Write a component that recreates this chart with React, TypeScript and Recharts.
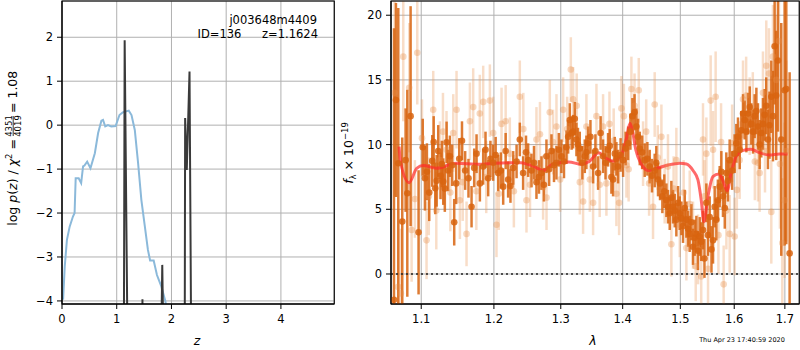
import React from "react";
import {
  ComposedChart,
  Line,
  Scatter,
  ErrorBar,
  XAxis,
  YAxis,
  CartesianGrid,
  ReferenceLine,
} from "recharts";

const FONT = "DejaVu Sans, Verdana, sans-serif";

// left panel: log p(z) curve (blue) and chi2-based spikes (black)
const pzZ = [0.02, 0.05, 0.09, 0.14, 0.2, 0.23, 0.25, 0.305, 0.35, 0.385, 0.41, 0.46, 0.52, 0.6, 0.66, 0.72, 0.75, 0.79, 0.84, 0.9, 0.98, 1.05, 1.11, 1.22, 1.27, 1.33, 1.39, 1.45, 1.51, 1.57, 1.61, 1.675, 1.735, 1.815, 1.89, 1.95];
const pzLog = [-3.97, -3.22, -2.61, -2.31, -2.08, -2.0, -1.21, -1.21, -1.32, -0.94, -0.92, -0.83, -0.98, -0.64, -0.18, 0.1, 0.12, -0.03, 0.0, -0.03, -0.02, 0.23, 0.29, 0.33, 0.23, -0.11, -0.86, -1.7, -2.27, -2.84, -3.08, -3.08, -3.41, -3.67, -4.01, -4.5];

const chiZ = [0, 1.12, 1.145, 1.235, 1.46, 1.47, 1.48, 1.76, 1.832, 1.91, 2.235, 2.25, 2.28, 2.33, 2.385, 4.97];
const chiLog = [-10, -10, 1.93, -10, -10, -3.96, -10, -10, -3.18, -10, -10, 0.16, -1.02, 1.22, -10, -10];

const zTicks = [0, 1, 2, 3, 4];
const logTicks = [-4, -3, -2, -1, 0, 1, 2];

// right panel: spectrum, strong points
const lamDark = [1.0647, 1.0672, 1.0702, 1.0753, 1.0796, 1.0818, 1.0861, 1.0965, 1.102, 1.1049, 1.1075, 1.1106, 1.1146, 1.1165, 1.1186, 1.1205, 1.1226, 1.1258, 1.1275, 1.1294, 1.1315, 1.1339, 1.136, 1.1384, 1.1415, 1.1443, 1.147, 1.1512, 1.155, 1.1594, 1.164, 1.1683, 1.172, 1.1753, 1.18, 1.1847, 1.188, 1.1918, 1.195, 1.1989, 1.2025, 1.2061, 1.21, 1.2134, 1.217, 1.2206, 1.224, 1.228, 1.233, 1.2378, 1.2427, 1.247, 1.2502, 1.2552, 1.259, 1.2627, 1.2665, 1.2703, 1.274, 1.2779, 1.282, 1.2856, 1.2895, 1.2933, 1.297, 1.301, 1.305, 1.3089, 1.3115, 1.3141, 1.317, 1.3193, 1.322, 1.3246, 1.327, 1.3299, 1.334, 1.3379, 1.3405, 1.3432, 1.347, 1.3513, 1.355, 1.3594, 1.3635, 1.3675, 1.3715, 1.3757, 1.3785, 1.3812, 1.384, 1.3868, 1.3895, 1.3923, 1.3965, 1.4007, 1.405, 1.4091, 1.413, 1.4164, 1.42, 1.4232, 1.426, 1.4289, 1.433, 1.4374, 1.442, 1.446, 1.45, 1.4547, 1.4575, 1.4605, 1.464, 1.4681, 1.4715, 1.4752, 1.478, 1.4811, 1.484, 1.487, 1.49, 1.4929, 1.496, 1.4989, 1.502, 1.5049, 1.508, 1.5109, 1.514, 1.5169, 1.52, 1.523, 1.526, 1.5291, 1.532, 1.5352, 1.538, 1.5413, 1.544, 1.5475, 1.5505, 1.5537, 1.557, 1.5599, 1.563, 1.5661, 1.569, 1.5724, 1.5755, 1.5786, 1.582, 1.5849, 1.588, 1.5913, 1.596, 1.6008, 1.604, 1.6072, 1.6105, 1.6136, 1.617, 1.6201, 1.6235, 1.6266, 1.63, 1.6331, 1.6365, 1.6396, 1.643, 1.6461, 1.6495, 1.6527, 1.656, 1.6593, 1.6625, 1.6659, 1.669, 1.6726, 1.676, 1.6793, 1.6825, 1.686, 1.6927, 1.6995, 1.7029, 1.7097];
const fluxDark = [-2.0, 13.45, 8.56, 4.05, 8.8, 6.24, 12.2, 3.22, 9.8, 7.4, 7.9, 6.29, 8.74, 10.2, 6.62, 7.2, 9.51, 7.58, 8.5, 7.14, 6.6, 10.18, 8.0, 9.1, 8.4, 4.0, 7.0, 8.9, 10.3, 8.0, 7.4, 5.2, 8.2, 9.3, 7.0, 8.3, 9.6, 7.4, 8.9, 8.6, 9.2, 7.8, 8.0, 6.75, 9.5, 7.3, 6.8, 8.2, 8.7, 10.4, 7.8, 9.4, 8.8, 8.0, 8.6, 7.1, 7.5, 7.8, 6.9, 9.1, 8.1, 9.5, 8.4, 8.6, 9.6, 9.1, 8.7, 9.8, 10.6, 11.9, 10.9, 11.0, 12.0, 10.4, 10.0, 9.7, 8.6, 9.1, 9.4, 10.1, 10.6, 8.3, 9.5, 7.8, 10.9, 9.1, 8.6, 9.6, 9.9, 7.5, 7.3, 9.3, 8.9, 8.3, 9.2, 8.8, 9.7, 10.1, 11.0, 12.2, 12.5, 11.4, 10.6, 9.7, 9.4, 8.8, 8.9, 8.3, 7.6, 8.0, 8.6, 7.3, 7.0, 6.0, 6.4, 5.7, 5.2, 4.7, 5.9, 5.2, 4.9, 4.2, 5.5, 4.7, 4.3, 3.7, 5.1, 4.2, 3.5, 3.1, 4.0, 2.1, 2.8, 3.1, 1.8, 2.9, 2.5, 3.4, 1.2, 5.5, 3.0, 4.4, 1.9, 2.6, 5.2, 4.2, 5.7, 6.75, 7.9, 6.0, 5.1, 7.8, 7.2, 8.8, 8.0, 9.3, 10.1, 10.6, 9.6, 11.1, 12.4, 11.9, 11.0, 12.4, 12.9, 11.6, 11.0, 12.2, 12.6, 11.4, 10.0, 10.9, 11.6, 12.3, 13.0, 10.4, 11.5, 13.7, 12.2, 17.6, 13.8, 16.5, 10.4, 14.2, 14.3, 1.6];
const errDark = [21, 7.5, 12, 6.5, 4, 8, 8.5, 4.8, 2.2, 2.5, 2.2, 2.2, 2.0, 2.0, 2.0, 2.0, 2.0, 1.8, 1.8, 1.8, 1.8, 1.6, 1.6, 1.6, 1.6, 1.8, 1.6, 1.6, 1.5, 1.5, 1.5, 1.6, 1.5, 1.5, 1.4, 1.4, 1.4, 1.4, 1.4, 1.4, 1.4, 1.4, 1.4, 1.4, 1.4, 1.4, 1.3, 1.3, 1.3, 1.3, 1.3, 1.3, 1.3, 1.3, 1.3, 1.3, 1.3, 1.3, 1.3, 1.3, 1.3, 1.3, 1.3, 1.3, 1.3, 1.3, 1.3, 1.3, 1.3, 1.3, 1.3, 1.3, 1.3, 1.3, 1.3, 1.3, 1.3, 1.3, 1.3, 1.3, 1.3, 1.3, 1.3, 1.3, 1.3, 1.3, 1.3, 1.3, 1.3, 1.3, 1.3, 1.3, 1.3, 1.3, 1.3, 1.3, 1.3, 1.3, 1.4, 1.4, 1.4, 1.4, 1.4, 1.3, 1.3, 1.3, 1.3, 1.3, 1.3, 1.3, 1.3, 1.3, 1.3, 1.3, 1.3, 1.3, 1.3, 1.3, 1.3, 1.3, 1.3, 1.3, 1.3, 1.3, 1.3, 1.3, 1.4, 1.4, 1.4, 1.4, 1.4, 1.4, 1.4, 1.4, 1.5, 1.5, 1.5, 1.5, 1.5, 1.5, 1.6, 1.6, 1.8, 1.8, 1.6, 1.6, 1.6, 1.6, 1.6, 1.6, 1.6, 1.6, 1.6, 1.6, 1.5, 1.5, 1.5, 1.5, 1.5, 1.5, 1.5, 1.5, 1.6, 1.6, 1.6, 1.6, 1.7, 1.7, 1.8, 1.8, 1.9, 1.9, 2.0, 2.0, 2.2, 2.3, 2.6, 2.8, 3.5, 4.5, 5, 5.5, 9, 12, 12, 14];

// faint points
const lamLight = [1.0655, 1.07, 1.0735, 1.0766, 1.0843, 1.0874, 1.0917, 1.0948, 1.101, 1.107, 1.11, 1.1159, 1.12, 1.1248, 1.129, 1.1338, 1.139, 1.143, 1.1475, 1.1521, 1.156, 1.1613, 1.166, 1.1706, 1.175, 1.1799, 1.1847, 1.189, 1.1942, 1.199, 1.2037, 1.207, 1.211, 1.217, 1.2231, 1.229, 1.2378, 1.243, 1.2477, 1.253, 1.2627, 1.268, 1.2728, 1.278, 1.283, 1.288, 1.2933, 1.299, 1.3037, 1.31, 1.3157, 1.3193, 1.325, 1.33, 1.3352, 1.3405, 1.346, 1.3513, 1.3567, 1.362, 1.3675, 1.373, 1.378, 1.385, 1.3895, 1.394, 1.3979, 1.402, 1.4063, 1.41, 1.4147, 1.42, 1.4272, 1.4346, 1.44, 1.445, 1.4518, 1.4547, 1.46, 1.4664, 1.4722, 1.478, 1.484, 1.488, 1.4929, 1.499, 1.506, 1.5109, 1.517, 1.523, 1.5279, 1.5322, 1.538, 1.5413, 1.544, 1.5475, 1.5506, 1.5555, 1.56, 1.5648, 1.57, 1.575, 1.5799, 1.585, 1.5913, 1.596, 1.6008, 1.605, 1.6104, 1.6169, 1.623, 1.6298, 1.636, 1.64, 1.6461, 1.6494, 1.656, 1.66, 1.6626, 1.668, 1.6726, 1.6759, 1.6826, 1.688, 1.69, 1.6948, 1.6995, 1.7029];
const fluxLight = [14.0, -1.0, -1.5, 16.8, 14.4, 3.4, 5.8, 17.1, 10.5, 2.6, 6.0, 12.7, 4.9, 8.8, 11.0, 9.6, 6.3, 10.9, 12.7, 5.7, 7.1, 3.1, 11.8, 12.9, 6.4, 12.4, 13.3, 7.5, 13.4, 10.9, 3.8, 6.2, 11.6, 11.8, 9.3, 6.4, 13.7, 11.2, 5.7, 6.9, 10.4, 10.8, 6.7, 5.9, 12.5, 10.2, 11.4, 7.3, 12.7, 11.2, 15.8, 13.5, 13.0, 7.1, 5.6, 11.4, 7.3, 5.5, 12.2, 6.9, 11.4, 7.0, 11.6, 10.3, 6.2, 5.5, 12.8, 12.2, 8.4, 8.1, 14.3, 13.0, 14.2, 9.3, 11.0, 7.0, 5.2, 13.1, 9.0, 10.6, 6.4, 8.3, 2.3, 6.6, 8.8, 3.8, 6.3, 2.0, 5.4, 3.0, 0.6, 1.9, -0.2, 10.4, 6.0, 9.3, 0.4, 13.4, 9.6, 13.7, 3.0, 10.2, -0.8, 4.9, 3.1, 10.1, 2.9, 6.5, 8.8, 13.5, 13.8, 12.2, 12.6, 8.7, 8.6, 7.8, 14.0, 9.5, 16.1, 15.5, 4.8, 16.8, 15.0, 18.0, 8.5, 2.4, 5.7, 9.5];
const errLight = [8, 6, 5, 5, 5, 4, 3, 4, 3, 3, 3, 3, 3, 3, 3, 3, 3, 3, 3, 3, 3, 2.5, 3, 3, 3, 3, 2.8, 2.8, 2.8, 2.8, 2.5, 2.8, 2.8, 2.8, 2.8, 2.8, 2.8, 2.8, 2.5, 2.5, 2.5, 2.5, 2.5, 2.5, 2.5, 2.5, 2.5, 2.5, 2.5, 2.5, 2.5, 2.5, 2.5, 2.5, 2.5, 2.5, 2.5, 2.5, 2.5, 2.5, 2.5, 2.5, 2.5, 2.5, 2.5, 2.5, 2.5, 2.5, 2.5, 2.5, 2.5, 2.5, 2.5, 2.5, 2.5, 2.5, 2.5, 2.5, 2.5, 2.5, 2.5, 2.5, 2.5, 2.5, 2.5, 2.5, 2.5, 2.5, 2.6, 2.6, 2.7, 2.7, 2.8, 2.8, 2.8, 2.8, 3, 3.5, 3, 3.5, 3, 3, 3, 3, 3, 3, 3, 3, 3, 3, 3, 3, 3, 3, 3, 3, 3.2, 3.2, 3.5, 3.5, 4, 4, 5, 4.5, 5, 5, 6, 7];

// best-fit template (red)
const lamModel = [1.0712, 1.0732, 1.0843, 1.094, 1.1026, 1.12, 1.147, 1.18, 1.2, 1.2397, 1.259, 1.2732, 1.2877, 1.3126, 1.3322, 1.345, 1.3604, 1.3707, 1.384, 1.3977, 1.4057, 1.4123, 1.4167, 1.4222, 1.4306, 1.4445, 1.4587, 1.4787, 1.4988, 1.511, 1.523, 1.532, 1.538, 1.543, 1.5504, 1.5596, 1.5707, 1.578, 1.5865, 1.594, 1.6036, 1.616, 1.632, 1.649, 1.6686, 1.6887, 1.7055];
const fluxModel = [9.85, 8.6, 7.06, 8.17, 8.38, 8.17, 8.56, 8.48, 8.56, 8.6, 8.3, 7.99, 8.48, 8.66, 8.48, 8.69, 9.38, 8.99, 8.74, 9.2, 10.36, 11.65, 11.0, 9.59, 8.56, 7.99, 8.17, 8.43, 8.56, 8.5, 8.0, 7.27, 5.72, 4.04, 5.98, 7.52, 7.73, 7.27, 6.44, 7.79, 9.07, 9.54, 9.64, 9.38, 9.2, 9.28, 9.28];

const lamTicks = [1.1, 1.2, 1.3, 1.4, 1.5, 1.6, 1.7];
const fluxTicks = [0, 5, 10, 15, 20];

const pzData = pzZ.map((z, i) => ({ z, v: pzLog[i] }));
const chiData = chiZ.map((z, i) => ({ z, v: chiLog[i] }));
const darkData = lamDark.map((lam, i) => ({ lam, f: fluxDark[i], err: errDark[i] }));
const lightData = lamLight.map((lam, i) => ({ lam, f: fluxLight[i], err: errLight[i] }));
const modelData = lamModel.map((lam, i) => ({ lam, f: fluxModel[i] }));

const tickStyle = { fontSize: 11.5, fill: "#000", fontFamily: FONT };
const minus = (v: number) => (v < 0 ? "\u2212" + Math.abs(v) : String(v));

const dot = (color: string, opacity: number) => (p: any) =>
  p.cx == null ? <g /> : <circle cx={p.cx} cy={p.cy} r={3.3} fill={color} fillOpacity={opacity} />;

const LAM_DOMAIN: [number, number] = [1.0609, 1.729];
const FLUX_DOMAIN: [number, number] = [-2.32, 21.1];

// same axes twice: visible under the data, invisible in the clipped data layer
const specX = (visible: boolean) => (
  <XAxis
    dataKey="lam"
    type="number"
    scale="log"
    domain={LAM_DOMAIN}
    ticks={lamTicks}
    allowDataOverflow
    height={46}
    tick={visible ? tickStyle : false}
    tickLine={visible}
    axisLine={visible}
    tickSize={5}
    tickMargin={6}
    tickFormatter={(v: number) => v.toFixed(1)}
    stroke="#000"
  />
);
const specY = (visible: boolean) => (
  <YAxis
    dataKey="f"
    type="number"
    domain={FLUX_DOMAIN}
    ticks={fluxTicks}
    allowDataOverflow
    width={51}
    tick={visible ? tickStyle : false}
    tickLine={visible}
    axisLine={visible}
    tickSize={5}
    tickMargin={4}
    stroke="#000"
  />
);

export default function App() {
  return (
    <div style={{ position: "absolute", left: 0, top: 0, width: 800, height: 350, background: "#fff" }}>
      <div style={{ position: "absolute", left: 0, top: 0 }}>
        <ComposedChart width={340} height={350} margin={{ top: 1, right: 6, left: 0, bottom: 0 }}>
          <CartesianGrid stroke="#b0b0b0" strokeWidth={1} />
          <XAxis
            dataKey="z"
            type="number"
            domain={[0, 4.97]}
            ticks={zTicks}
            allowDataOverflow
            height={46}
            tick={tickStyle}
            tickSize={5}
            tickMargin={6}
            stroke="#000"
          />
          <YAxis
            dataKey="v"
            type="number"
            domain={[-4.07, 2.825]}
            ticks={logTicks}
            allowDataOverflow
            width={62}
            tick={tickStyle}
            tickSize={5}
            tickMargin={4}
            tickFormatter={minus}
            stroke="#000"
          />
          <Line data={pzData} dataKey="v" type="linear" stroke="#8bb9da" strokeWidth={2} dot={false} isAnimationActive={false} />
          <Line data={chiData} dataKey="v" type="linear" stroke="#3a3a3a" strokeWidth={2} dot={false} isAnimationActive={false} />
        </ComposedChart>
      </div>
      {/* spectrum: grid and axes */}
      <div style={{ position: "absolute", left: 340, top: 0 }}>
        <ComposedChart width={460} height={350} margin={{ top: 1, right: 1, left: 0, bottom: 0 }}>
          <CartesianGrid stroke="#b0b0b0" strokeWidth={1} />
          {specX(true)}
          {specY(true)}
          <Line data={modelData} dataKey="f" stroke="none" dot={false} isAnimationActive={false} />
        </ComposedChart>
      </div>
      {/* spectrum: data, clipped to the plot area */}
      <div style={{ position: "absolute", left: 340, top: 0, clipPath: "inset(1px 1px 46px 51px)" }}>
        <ComposedChart width={460} height={350} margin={{ top: 1, right: 1, left: 0, bottom: 0 }}>
          {specX(false)}
          {specY(false)}
          <Scatter data={lightData} dataKey="f" shape={dot("#e8904a", 0.35)} isAnimationActive={false}>
            <ErrorBar dataKey="err" direction="y" width={0} stroke="#ec9d62" strokeOpacity={0.35} strokeWidth={2.5} />
          </Scatter>
          <Scatter data={darkData} dataKey="f" shape={dot("#d8640f", 0.85)} isAnimationActive={false}>
            <ErrorBar dataKey="err" direction="y" width={0} stroke="#d8640f" strokeOpacity={0.85} strokeWidth={2.5} />
          </Scatter>
          <ReferenceLine y={0} stroke="#222" strokeDasharray="2 3" strokeWidth={1.6} />
          <Line data={modelData} dataKey="f" type="monotone" stroke="#ff2a2a" strokeOpacity={0.7} strokeWidth={3} dot={false} isAnimationActive={false} />
        </ComposedChart>
      </div>
      <svg width={800} height={350} style={{ position: "absolute", left: 0, top: 0, pointerEvents: "none" }} fontFamily={FONT}>
        <rect x={62} y={1} width={272.3} height={303} fill="none" stroke="#000" strokeWidth={1.1} />
        <rect x={391} y={1} width={408.3} height={303} fill="none" stroke="#000" strokeWidth={1.1} />
        <text x={317} y={24} fontSize={11.5} textAnchor="end">j003648m4409</text>
        <text x={197.5} y={37.5} fontSize={11.5}>ID=136</text>
        <text x={318} y={37.5} fontSize={11.5} textAnchor="end">z=1.1624</text>
        <text x={197} y={345} fontSize={12.5} fontStyle="italic" textAnchor="middle">z</text>
        <text x={593} y={345} fontSize={12.5} fontStyle="italic" textAnchor="middle">λ</text>
        <text x={742} y={342} fontSize={6.5} textAnchor="middle">Thu Apr 23 17:40:59 2020</text>
        <g transform="translate(17,153) rotate(-90)" fontSize={12.5}>
          <text x={14} y={0} textAnchor="end">
            log <tspan fontStyle="italic">p</tspan>(<tspan fontStyle="italic">z</tspan>) / <tspan fontStyle="italic">χ</tspan>
            <tspan fontSize={8.5} dy={-5}>2</tspan>
            <tspan dy={5}> =</tspan>
          </text>
          <text x={27} y={-5.5} fontSize={8.5} textAnchor="middle">4351</text>
          <line x1={17} x2={37} y1={-3.8} y2={-3.8} stroke="#000" strokeWidth={0.8} />
          <text x={27} y={3.5} fontSize={8.5} textAnchor="middle">4019</text>
          <text x={40} y={0}>= 1.08</text>
        </g>
        <g transform="translate(353,153) rotate(-90)" fontSize={12.5}>
          <text x={0} y={0} textAnchor="middle">
            <tspan fontStyle="italic">f</tspan>
            <tspan fontSize={8.5} dy={3}>λ</tspan>
            <tspan dy={-3}> × 10</tspan>
            <tspan fontSize={8.5} dy={-5}>−19</tspan>
          </text>
        </g>
      </svg>
    </div>
  );
}
